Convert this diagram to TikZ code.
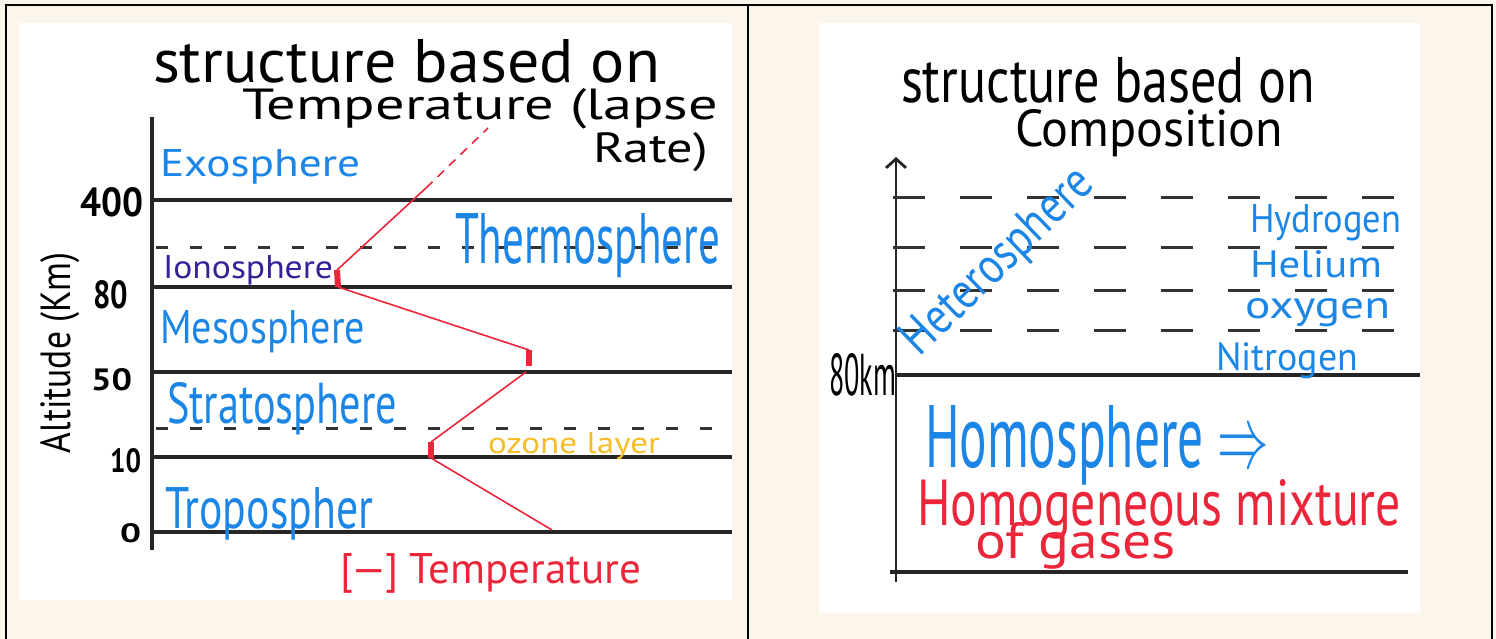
\documentclass[tikz,border=0pt]{standalone}
\usepackage{fontspec}
\setmainfont{PT Sans}
\usepackage{graphicx}
\usetikzlibrary{arrows.meta}
\definecolor{cream}{RGB}{251,245,236}
\definecolor{skyb}{RGB}{28,134,230}
\definecolor{purp}{RGB}{56,32,150}
\definecolor{ozone}{RGB}{245,190,40}
\definecolor{tred}{RGB}{236,38,58}
\newcommand{\fitbox}[3]{\resizebox{#1pt}{#2pt}{#3}}
\begin{document}
\begin{tikzpicture}[x=1pt,y=-1pt,
  lbl/.style={inner sep=0pt,outer sep=0pt,anchor=base west},
  layer/.style={line width=3.2pt,black!85},
  ldash/.style={line width=3pt,black!80,dash pattern=on 12pt off 22pt},
  rdash/.style={line width=3pt,black!80,dash pattern=on 32pt off 35pt},
  temp/.style={line width=1.6pt,tred},
  tthick/.style={line width=6pt,tred}]
\useasboundingbox (0,0) rectangle (1496,639);
\fill[cream] (0,0) rectangle (1496,639);
\fill[white] (19,23) rectangle (732,600);
\fill[white] (819,23) rectangle (1420,613);
\draw[line width=2.5pt] (6,5) rectangle (1492,648);
\draw[line width=2.5pt] (748,5) -- (748,648);

% ---------- left panel ----------
\node[lbl] (tA1) at (153,83) {\fitbox{507}{43}{structure based on}};
\node[lbl] (tA2) at (242,120) {\fitbox{476}{31}{Temperature (lapse}};
\node[lbl] (tA3) at (593,163) {\fitbox{115}{30}{Rate)}};

\draw[layer] (152,117) -- (152,550);
\draw[layer] (152,200) -- (732,200);
\draw[layer] (152,287) -- (732,287);
\draw[layer] (152,372) -- (732,372);
\draw[layer] (152,457) -- (732,457);
\draw[layer] (152,532) -- (732,532);
\draw[ldash] (156,247) -- (732,247);
\draw[ldash] (156,428) -- (732,428);

\node[lbl] (n400) at (80,217) {\fitbox{63}{29}{\textbf{400}}};
\node[lbl] (n80) at (93,308) {\fitbox{35}{28}{\textbf{80}}};
\node[lbl] (n50) at (91,390) {\fitbox{41}{22}{\textbf{50}}};
\node[lbl] (n10) at (110,472) {\fitbox{31}{24}{\textbf{10}}};
\node[lbl] (n0) at (120,542) {\fitbox{21}{19}{\textbf{0}}};
\node[lbl,rotate=90,anchor=base] (alt) at (70,353) {\fitbox{200}{30}{Altitude (Km)}};

\node[lbl,text=skyb] (exo) at (160,177) {\fitbox{200}{27}{Exosphere}};
\node[lbl,text=purp] (iono) at (163,278) {\fitbox{170}{23}{Ionosphere}};
\node[lbl,text=skyb] (thermo) at (455,263) {\fitbox{265}{50}{Thermosphere}};
\node[lbl,text=skyb] (meso) at (160,343) {\fitbox{205}{33}{Mesosphere}};
\node[lbl,text=skyb] (strato) at (167,423) {\fitbox{230}{41}{Stratosphere}};
\node[lbl,text=ozone] (ozone) at (488,453) {\fitbox{172}{21}{ozone layer}};
\node[lbl,text=skyb] (tropo) at (165,528) {\fitbox{208}{41}{Tropospher}};
\node[lbl,text=tred] (tlabel) at (340,583) {\fitbox{301}{30}{[—] Temperature}};

% temperature profile
\coordinate (p0) at (552,530);
\coordinate (p1) at (431,458);
\coordinate (p1t) at (431,442);
\coordinate (p2) at (526,372);
\coordinate (p2b) at (529,366);
\coordinate (p2t) at (529,350);
\coordinate (p3) at (338,287);
\coordinate (p3t) at (337,270);
\coordinate (p4) at (426,188);
\coordinate (p5) at (488,128);
\draw[temp] (p0) -- (p1);
\draw[tthick] (p1) -- (p1t);
\draw[temp] (p1t) -- (p2);
\draw[tthick] (p2b) -- (p2t);
\draw[temp] (p2t) -- (p3);
\draw[tthick] (p3) -- (p3t);
\draw[temp] (p3t) -- (p4);
\draw[temp,dash pattern=on 9pt off 7pt] (p4) -- (p5);

% ---------- right panel ----------
\node[lbl] (tB1) at (901,103) {\fitbox{414}{45}{structure based on}};
\node[lbl] (tB2) at (1015,147) {\fitbox{268}{37}{Composition}};

\draw[line width=2.8pt,black!85,-{Straight Barb[length=9pt,width=20pt]}] (896,582) -- (896,157);
\draw[rdash] (893,198) -- (1405,198);
\draw[rdash] (893,247) -- (1405,247);
\draw[rdash] (893,290) -- (1405,290);
\draw[rdash] (893,330) -- (1405,330);
\draw[layer] (896,375) -- (1420,375);
\draw[layer] (890,572) -- (1408,572);

\node[lbl] (km80) at (829,395) {\fitbox{67}{42}{80km}};
\node[lbl,text=skyb,rotate=44,anchor=base] (hetero) at (1008,272) {\fitbox{245}{36}{Heterosphere}};
\node[lbl,text=skyb] (hyd) at (1250,233) {\fitbox{151}{28}{Hydrogen}};
\node[lbl,text=skyb] (hel) at (1250,277) {\fitbox{132}{27}{Helium}};
\node[lbl,text=skyb] (oxy) at (1245,318) {\fitbox{145}{20}{oxygen}};
\node[lbl,text=skyb] (nit) at (1216,370) {\fitbox{142}{28}{Nitrogen}};
\node[lbl,text=skyb] (homo) at (925,467) {\fitbox{344}{62}{Homosphere $\Rightarrow$}};
\node[lbl,text=tred] (mix1) at (917,525) {\fitbox{484}{46}{Homogeneous mixture}};
\node[lbl,text=tred] (mix2) at (975,558) {\fitbox{201}{36}{of gases}};
\end{tikzpicture}
\end{document}
